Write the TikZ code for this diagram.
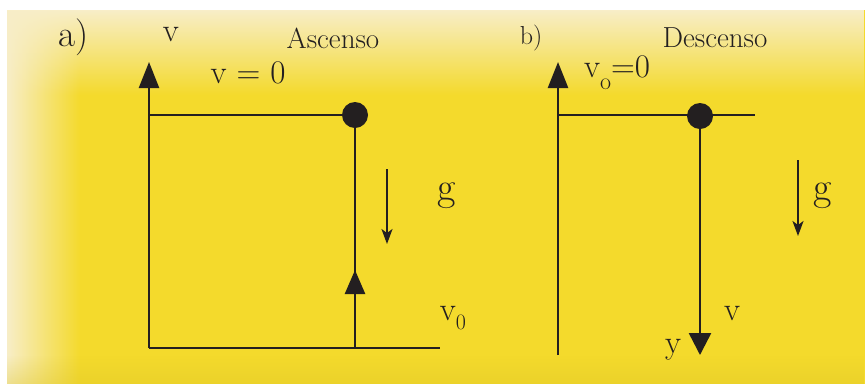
\documentclass[tikz,border=0pt]{standalone}
\usepackage{fontspec}
\usepackage{tikz}
\usepackage{xcolor}
\usetikzlibrary{arrows.meta,fadings}

\definecolor{fondo}{RGB}{244,218,44}
\definecolor{palido}{RGB}{248,238,200}
\definecolor{tinta}{RGB}{35,31,32}
\tikzfading[name=haciaderecha, left color=transparent!0, right color=transparent!100]
\tikzfading[name=haciaabajo, top color=transparent!0, bottom color=transparent!100]
\tikzfading[name=haciaarriba, top color=transparent!100, bottom color=transparent!0]

\tikzset{
  eje/.style={draw=tinta, line width=2.5pt},
  grav/.style={draw=tinta, line width=2pt, -{Stealth[length=15pt,width=11pt,inset=4pt]}},
  punto/.style={circle, fill=tinta, inner sep=0pt, minimum size=26pt},
  grande/.style={text=tinta, font=\fontsize{33}{33}\selectfont},
  chico/.style={text=tinta, font=\fontsize{29}{29}\selectfont}
}

\begin{document}
\begin{tikzpicture}[x=1pt,y=-1pt]
\useasboundingbox (0,0) rectangle (865,384);
% fondo
\fill[white] (0,0) rectangle (865,384);
\fill[fondo] (7,10) rectangle (865,384);
\fill[palido, path fading=haciaderecha] (7,10) rectangle (80,384);
\fill[palido, path fading=haciaabajo] (7,10) rectangle (865,95);
\fill[fondo!90!black, path fading=haciaarriba, opacity=0.35] (7,355) rectangle (865,384);

% a) ascenso
\node[grande, font=\fontsize{37}{37}\selectfont] (letraA) at (74,37) {a)};
\node[grande] (velA) at (171,35) {v};
\node[chico] (titA) at (333,38) {Ascenso};
\node[grande] (ceroA) at (248,73) {v = 0};
\node[punto] (cimaA) at (355,115) {};
\coordinate (baseA) at (149,348);
\coordinate (ejeA) at (149,62);
\coordinate (finA) at (440,348);
\coordinate (izqA) at (149,115);
\coordinate (pieA) at (355,348);
\coordinate (flechaA) at (355,270);
\draw[eje,-{Triangle[length=26pt,width=20pt]}] (baseA) -- (ejeA);
\draw[eje] (baseA) -- (finA);
\draw[eje] (izqA) -- (cimaA);
\draw[eje] (cimaA.center) -- (pieA);
\draw[eje,-{Triangle[length=24pt,width=20pt]}] (pieA) -- (flechaA);
\coordinate (galtoA) at (387,169);
\coordinate (gbajoA) at (387,244);
\draw[grav] (galtoA) -- (gbajoA);
\node[grande, font=\fontsize{40}{40}\selectfont] (gA) at (447,196) {g};
\node[grande] (vceroA) at (453,318) {v\raisebox{-9pt}{\fontsize{22}{22}\selectfont 0}};

% b) descenso
\node[chico, font=\fontsize{26}{26}\selectfont] (letraB) at (531,38) {b)};
\node[chico] (titB) at (715,38) {Descenso};
\node[grande] (ceroB) at (617,73) {v\raisebox{-12pt}{\fontsize{24}{24}\selectfont o}=0};
\node[punto] (cimaB) at (700,116) {};
\coordinate (baseB) at (558,355);
\coordinate (ejeB) at (558,62);
\coordinate (izqB) at (558,115);
\coordinate (derB) at (755,115);
\coordinate (pieB) at (700,355);
\draw[eje,-{Triangle[length=26pt,width=20pt]}] (baseB) -- (ejeB);
\draw[eje] (izqB) -- (derB);
\draw[eje,-{Triangle[length=22pt,width=22pt]}] (cimaB.center) -- (pieB);
\coordinate (galtoB) at (798,160);
\coordinate (gbajoB) at (798,236);
\draw[grav] (galtoB) -- (gbajoB);
\node[grande, font=\fontsize{40}{40}\selectfont] (gB) at (823,196) {g};
\node[grande] (vB) at (732,314) {v};
\node[grande] (yB) at (673,350) {y};
\end{tikzpicture}
\end{document}
